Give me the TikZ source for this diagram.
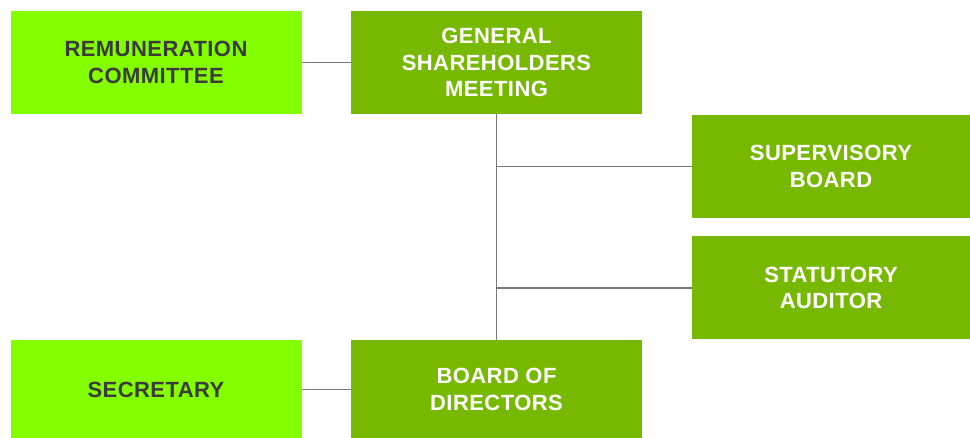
\documentclass[tikz,border=0pt]{standalone}
\usepackage{fontspec}
\setmainfont{Liberation Sans}[LetterSpace=2]
\definecolor{lightgreen}{RGB}{132,255,0}
\definecolor{darkgreen}{RGB}{118,185,0}
\definecolor{textgray}{RGB}{58,58,58}
\definecolor{linegray}{RGB}{120,120,120}
\tikzset{
    box/.style={rectangle, inner sep=0pt, minimum width=291pt, minimum height=103pt,
        align=center, font=\bfseries\fontsize{22}{26.5}\selectfont},
    sidebox/.style={box, fill=lightgreen, text=textgray},
    mainbox/.style={box, fill=darkgreen, text=white},
    link/.style={draw=linegray, line width=1.1pt}
}
\begin{document}
\begin{tikzpicture}[x=1pt, y=1pt]
    \useasboundingbox (0,0) rectangle (970,-438);

    \node [sidebox] (remun) at (156,-62.5) {REMUNERATION\\COMMITTEE};
    \node [mainbox] (gsm) at (496.5,-62.5) {GENERAL\\SHAREHOLDERS\\MEETING};

    \node [mainbox, minimum width=278pt] (superv) at (831,-166.5) {SUPERVISORY\\BOARD};
    \node [mainbox, minimum width=278pt] (auditor) at (831,-288) {STATUTORY\\AUDITOR};

    \node [sidebox, minimum height=99pt] (secr) at (156,-389.5) {SECRETARY};
    \node [mainbox, minimum height=99pt] (board) at (496.5,-389.5) {BOARD OF\\DIRECTORS};

    \draw [link] (remun.east) -- (gsm.west);
    \draw [link] (secr.east) -- (secr.east -| board.west);
    \draw [link] (gsm.south) -- (board.north);
    \draw [link] (superv.west -| gsm.south) -- (superv.west);
    \draw [link] (auditor.west -| gsm.south) -- (auditor.west);
\end{tikzpicture}
\end{document}
